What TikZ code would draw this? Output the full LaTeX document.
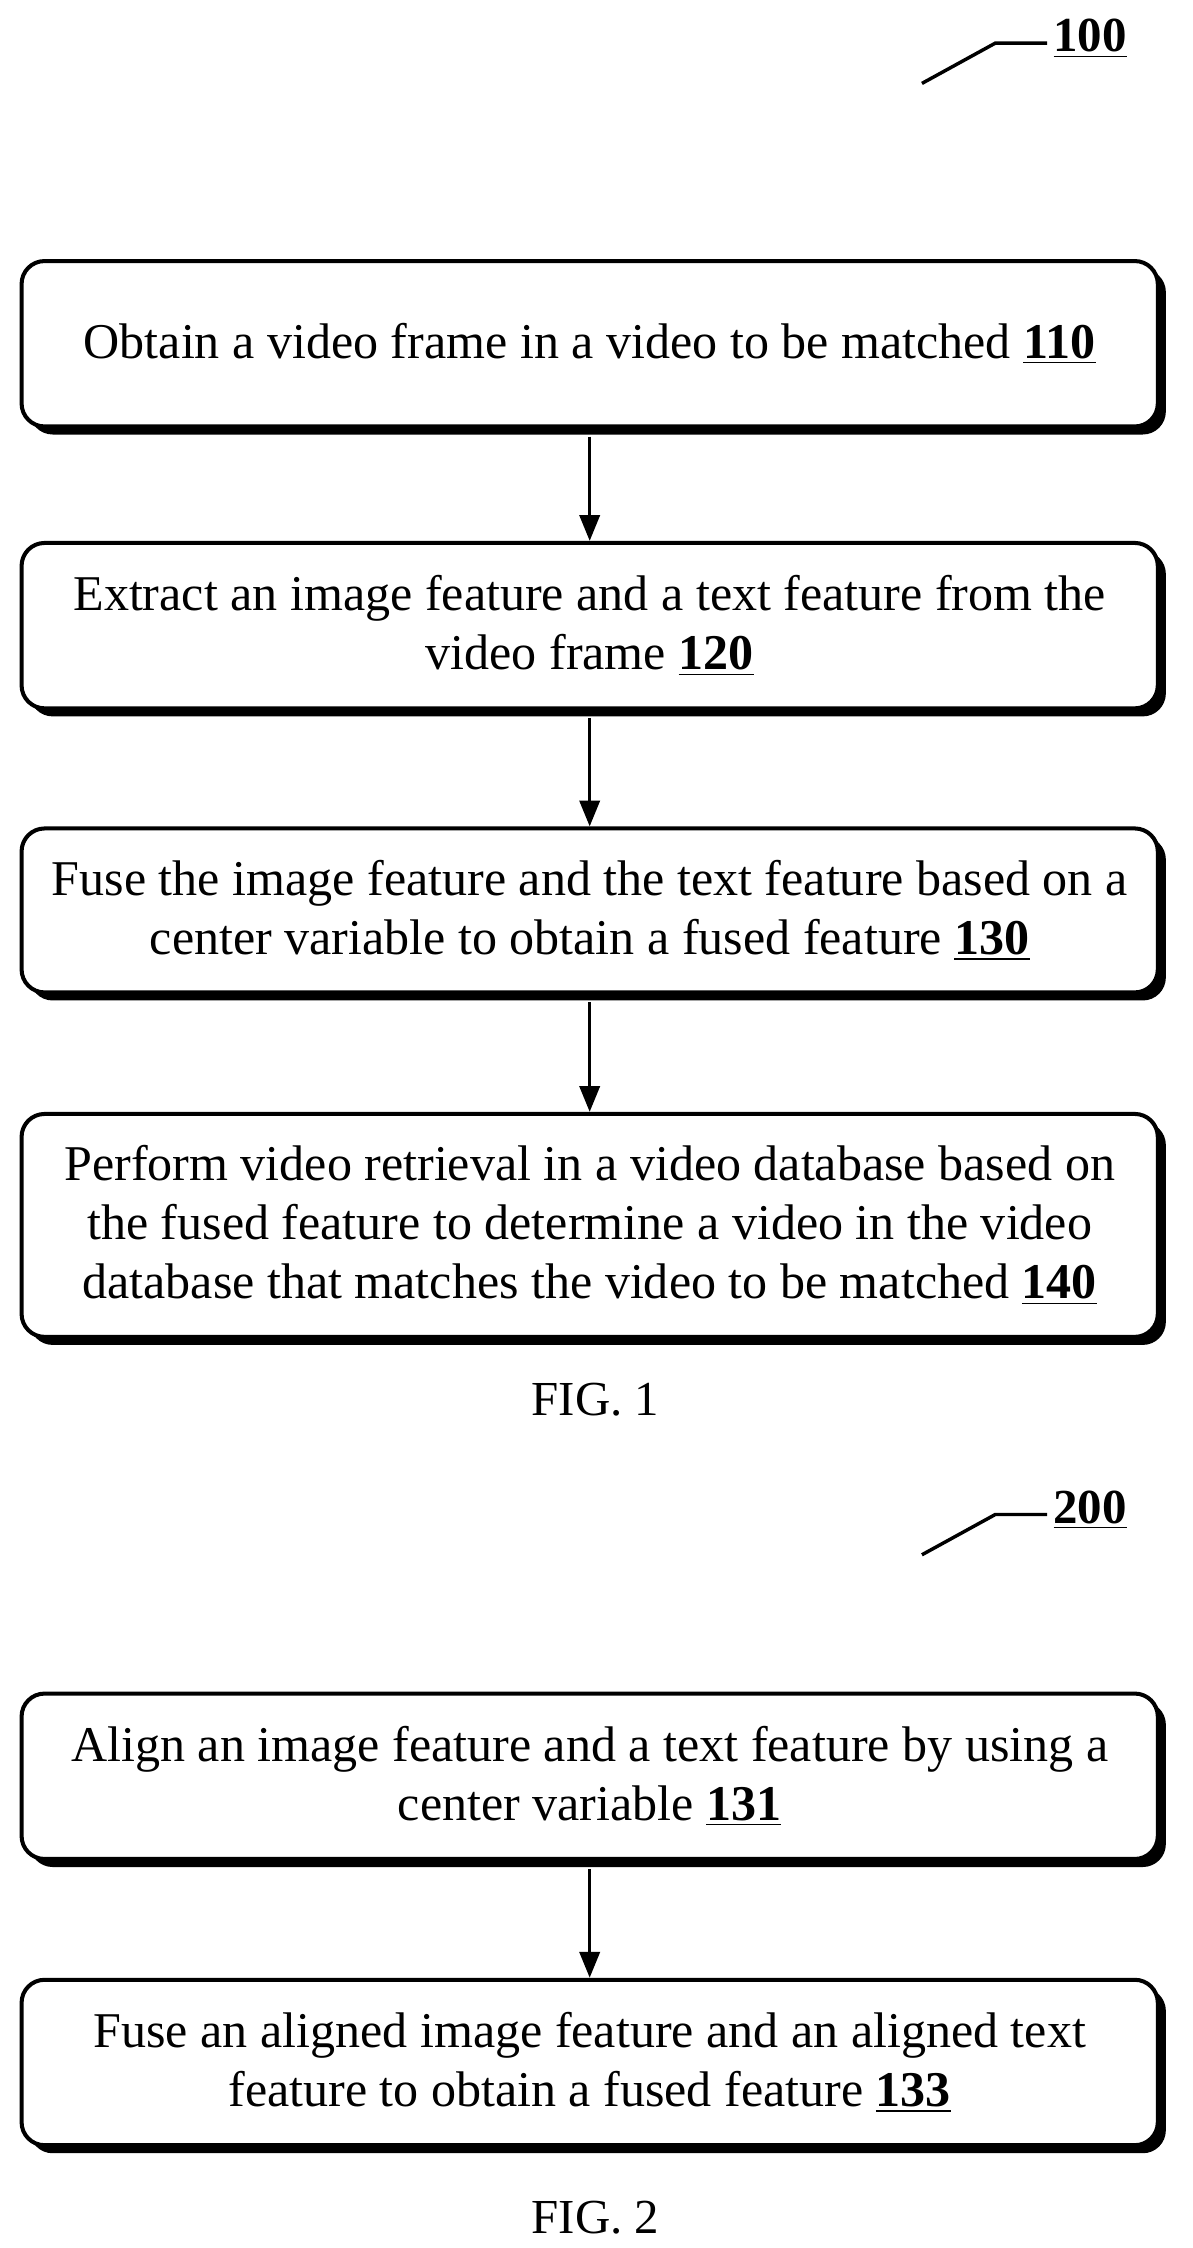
\documentclass[tikz,border=0pt]{standalone}
\usepackage{fontspec}
\setmainfont{Liberation Serif}
\usetikzlibrary{arrows.meta,shadows}
\begin{document}
\begin{tikzpicture}[x=0.5pt,y=-0.5pt,
  box/.style={draw,line width=1.4pt,rounded corners=8pt,fill=white,minimum width=395pt,align=center,font=\fontsize{17.4}{20.5}\selectfont,
    drop shadow={shadow xshift=2.8pt,shadow yshift=-2.8pt,fill=black,opacity=1}},
  arr/.style={line width=1.2pt,-{Triangle[length=9pt,width=7pt]}},
  num/.style={font=\fontsize{17}{20}\selectfont\bfseries},
  lbl/.style={font=\fontsize{17}{20}\selectfont}]
\useasboundingbox (0,0) rectangle (829,1563);
\node[num] (l100) at (758,27) {\underline{100}};
\draw[line width=1.2pt] (641,58) -- (692,30) -- (728,30);
\node[box,minimum height=57.5pt] (b1) at (410,239) {Obtain a video frame in a video to be matched \underline{\textbf{110}}};
\node[box,minimum height=57.5pt] (b2) at (410,435) {Extract an image feature and a text feature from the\\video frame \underline{\textbf{120}}};
\node[box,minimum height=57pt] (b3) at (410,633) {Fuse the image feature and the text feature based on a\\center variable to obtain a fused feature \underline{\textbf{130}}};
\node[box,minimum height=77.5pt] (b4) at (410,852) {Perform video retrieval in a video database based on\\the fused feature to determine a video in the video\\database that matches the video to be matched \underline{\textbf{140}}};
\node[lbl] (f1) at (414,973) {FIG. 1};
\node[num] (l200) at (758,1050) {\underline{200}};
\draw[line width=1.2pt] (641,1081) -- (692,1053) -- (728,1053);
\node[box,minimum height=57.5pt] (b5) at (410,1235) {Align an image feature and a text feature by using a\\center variable \underline{\textbf{131}}};
\node[box,minimum height=57.5pt] (b6) at (410,1434) {Fuse an aligned image feature and an aligned text\\feature to obtain a fused feature \underline{\textbf{133}}};
\node[lbl] (f2) at (414,1542) {FIG. 2};
\draw[arr] ([yshift=-2.8pt]b1.south) -- (b2.north);
\draw[arr] ([yshift=-2.8pt]b2.south) -- (b3.north);
\draw[arr] ([yshift=-2.8pt]b3.south) -- (b4.north);
\draw[arr] ([yshift=-2.8pt]b5.south) -- (b6.north);
\end{tikzpicture}
\end{document}
